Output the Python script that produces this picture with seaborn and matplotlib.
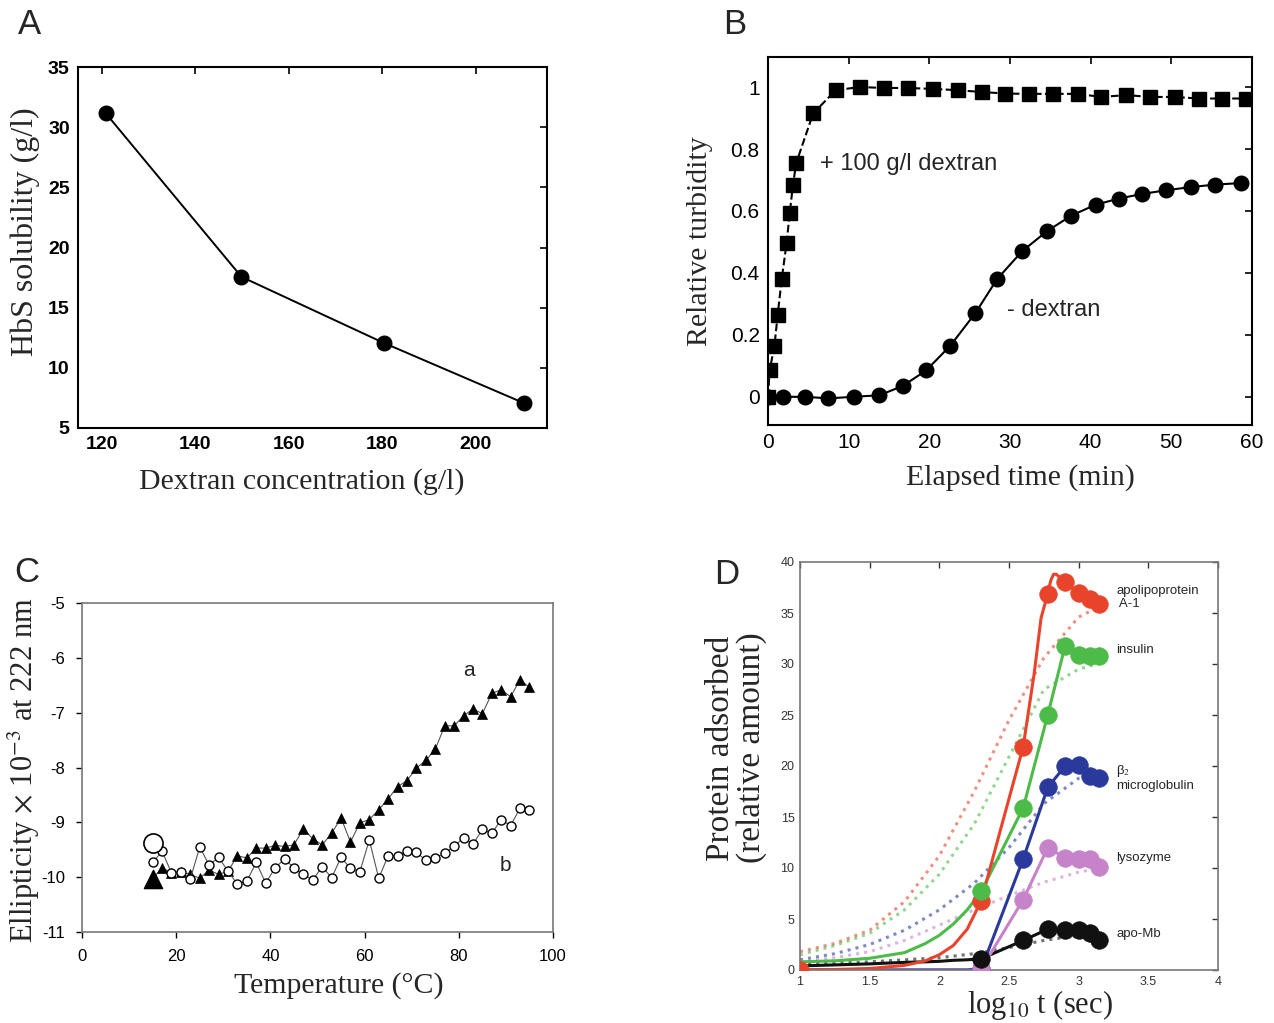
import matplotlib
matplotlib.use('Agg')
import matplotlib.pyplot as plt
import seaborn as sns
from matplotlib.ticker import FuncFormatter

# ---- panel A: HbS solubility vs dextran concentration
dextran_conc = [120.8, 149.9, 180.3, 210.3]
hbs_solubility = [31.17, 17.56, 12.08, 7.08]

# ---- panel B: turbidity kinetics
time_plus = [0.0, 0.2, 0.8, 1.2, 1.7, 2.3, 2.7, 3.1, 3.5, 5.6, 8.4, 11.4, 14.4, 17.4, 20.4,
             23.5, 26.5, 29.4, 32.4, 35.3, 38.4, 41.3, 44.4, 47.4, 50.4, 53.4, 56.3, 59.2]
turb_plus = [0.0, 0.085, 0.165, 0.265, 0.38, 0.495, 0.595, 0.685, 0.755, 0.915, 0.99, 1.0,
             0.997, 0.997, 0.994, 0.99, 0.984, 0.979, 0.978, 0.978, 0.978, 0.968, 0.974,
             0.968, 0.968, 0.963, 0.963, 0.963]
time_minus = [0.0, 1.8, 4.6, 7.5, 10.6, 13.8, 16.7, 19.6, 22.6, 25.7, 28.4, 31.5, 34.6,
              37.6, 40.6, 43.5, 46.4, 49.4, 52.4, 55.4, 58.6]
turb_minus = [0.0, 0.0, 0.0, -0.005, 0.0, 0.005, 0.035, 0.085, 0.165, 0.27, 0.38, 0.47,
              0.535, 0.585, 0.62, 0.64, 0.655, 0.667, 0.677, 0.685, 0.69]

# ---- panel C: ellipticity vs temperature
temp_a = [15, 17, 19, 21, 23, 25, 27, 29, 31, 33, 35, 37, 39, 41, 43, 45, 47, 49, 51, 53,
          55, 57, 59, 61, 63, 65, 67, 69, 71, 73, 75, 77, 79, 81, 83, 85, 87, 89, 91, 93, 95]
ellip_a = [-10.03, -9.83, -9.92, -9.90, -9.95, -10.02, -9.87, -9.95, -9.89, -9.61, -9.65,
           -9.47, -9.47, -9.42, -9.44, -9.41, -9.12, -9.30, -9.41, -9.20, -8.92, -9.36,
           -9.01, -8.95, -8.77, -8.57, -8.35, -8.24, -8.01, -7.87, -7.67, -7.24, -7.24,
           -7.06, -6.93, -7.02, -6.65, -6.58, -6.71, -6.40, -6.54]
temp_b = [15, 17, 19, 21, 23, 25, 27, 29, 31, 33, 35, 37, 39, 41, 43, 45, 47, 49, 51, 53,
          55, 57, 59, 61, 63, 65, 67, 69, 71, 73, 75, 77, 79, 81, 83, 85, 87, 89, 91, 93, 95]
ellip_b = [-9.73, -9.53, -9.92, -9.90, -10.03, -9.45, -9.78, -9.64, -9.89, -10.13, -10.07,
           -9.73, -10.11, -9.83, -9.67, -9.83, -9.95, -10.05, -9.81, -10.01, -9.64, -9.84,
           -9.90, -9.32, -10.02, -9.61, -9.61, -9.52, -9.55, -9.69, -9.65, -9.56, -9.44,
           -9.28, -9.40, -9.13, -9.20, -8.95, -9.06, -8.74, -8.77]
start_temp = [15]
start_a = [-10.03]
start_b = [-9.38]

# ---- panel D: protein adsorption (log10 t)
t_pts = [2.301, 2.602, 2.778, 2.903, 3.0, 3.079, 3.146]
apoa1_pts = [6.8, 21.9, 36.9, 38.0, 37.0, 36.4, 35.9]
insulin_pts = [7.7, 15.9, 25.0, 31.8, 30.9, 30.8, 30.8]
b2m_pts = [0.1, 10.9, 17.9, 20.0, 20.1, 19.0, 18.8]
lyso_pts = [0.1, 6.9, 12.0, 11.0, 10.9, 10.9, 10.1]
apomb_pts = [1.1, 2.9, 4.0, 3.9, 3.9, 3.6, 2.9]
t_first = [1.0]
apoa1_first = [0.0]

# solid traces before the sampled points
t_early = [1.0, 1.25, 1.5, 1.75, 1.9, 2.0, 2.1, 2.2]
apoa1_early = [0.0, 0.05, 0.15, 0.45, 0.9, 1.5, 2.4, 4.0]
insulin_early = [0.8, 0.9, 1.15, 1.7, 2.6, 3.4, 4.5, 5.9]
b2m_early = [0.0, 0.0, 0.0, 0.0, 0.0, 0.0, 0.0, 0.0]
lyso_early = [0.0, 0.0, 0.0, 0.0, 0.0, 0.0, 0.0, 0.0]
apomb_early = [0.4, 0.5, 0.6, 0.75, 0.8, 0.85, 0.95, 1.0]
# extra samples of the apolipoprotein trace around its overshoot
t_apoa1_peak = [2.45, 2.68, 2.73, 2.80, 2.82, 2.84, 2.87]
apoa1_peak = [14.3, 29.0, 34.5, 38.2, 38.8, 38.8, 38.4]

# dotted model curves
t_model = [1.0, 1.25, 1.5, 1.75, 2.0, 2.25, 2.5, 2.75, 3.0, 3.16]
apoa1_model = [1.8, 2.6, 3.9, 6.7, 11.2, 17.5, 24.5, 30.6, 34.6, 35.7]
insulin_model = [1.5, 2.4, 3.6, 5.9, 9.4, 14.3, 20.9, 27.5, 29.5, 30.1]
b2m_model = [1.0, 1.6, 2.5, 3.9, 5.9, 8.5, 12.0, 16.3, 18.8, 19.3]
lyso_model = [0.8, 1.2, 1.8, 2.9, 4.4, 5.9, 7.3, 8.6, 9.6, 10.0]
apomb_model = [0.6, 0.7, 0.8, 1.0, 1.2, 1.6, 2.2, 2.9, 3.4, 3.5]

protein_names = ['apolipoprotein\n A-1', 'insulin', 'β$_2$\nmicroglobulin', 'lysozyme', 'apo-Mb']
protein_label_y = [36.5, 31.4, 18.9, 11.0, 3.5]
protein_colors = ['#e8442b', '#4cbb47', '#2a3a9c', '#c683c9', '#111111']

W, H = 1274, 1023
SANS = ['Liberation Sans', 'DejaVu Sans']
SERIF = ['Liberation Serif', 'DejaVu Serif']


def px_axes(fig, left, top, right, bottom):
    return fig.add_axes([left / W, 1 - bottom / H, (right - left) / W, (bottom - top) / H])


def set_labels(ax, xlabel, ylabel, xpos, ypos, xsize=21.5, ysize=21.5, ylinespacing=1.2):
    # xpos / ypos are (x, y) label centres in axes fraction
    ax.set_xlabel(xlabel, fontsize=xsize, family=SERIF, va='center')
    ax.set_ylabel(ylabel, fontsize=ysize, family=SERIF, va='center', linespacing=ylinespacing)
    ax.xaxis.set_label_coords(*xpos)
    ax.yaxis.set_label_coords(*ypos)


def main():
    sns.set_theme(style='white')
    plt.rcParams['font.family'] = SANS
    plt.rcParams['mathtext.fontset'] = 'stix'
    plt.rcParams['axes.unicode_minus'] = False

    fig = plt.figure(figsize=(W / 100, H / 100), dpi=100)
    fmt = FuncFormatter(lambda v, p: f'{v:g}')

    # ---------------- A
    ax = px_axes(fig, 78, 67, 547, 428)
    sns.lineplot(x=dextran_conc, y=hbs_solubility, ax=ax, color='black', lw=1.4,
                 marker='o', ms=10.5, mec='black', mew=1, estimator=None)
    ax.set_xlim(114.9, 215.3)
    ax.set_ylim(5, 35)
    ax.set_xticks(range(120, 201, 20))
    ax.set_yticks(range(5, 36, 5))
    ax.tick_params(direction='in', top=True, right=True, length=5, width=1.2,
                   labelsize=14, pad=6, colors='black')
    for lab in ax.get_xticklabels() + ax.get_yticklabels():
        lab.set_fontweight('bold')
    for s in ax.spines.values():
        s.set_color('black')
        s.set_linewidth(1.5)
    set_labels(ax, 'Dextran concentration (g/l)', 'HbS solubility (g/l)',
               ((302 - 78) / 469, (428 - 482) / 361), ((25 - 78) / 469, (428 - 232) / 361),
               ysize=23)

    # ---------------- B
    ax = px_axes(fig, 768, 57, 1252, 425)
    sns.lineplot(x=time_plus, y=turb_plus, ax=ax, color='black', lw=1.5, linestyle='--',
                 marker='s', ms=10, mec='black', mew=1, estimator=None)
    sns.lineplot(x=time_minus, y=turb_minus, ax=ax, color='black', lw=1.5,
                 marker='o', ms=10.5, mec='black', mew=1, estimator=None)
    ax.set_xlim(0, 60)
    ax.set_ylim(-0.091, 1.097)
    ax.set_xticks(range(0, 61, 10))
    ax.set_yticks([0, 0.2, 0.4, 0.6, 0.8, 1.0])
    ax.yaxis.set_major_formatter(fmt)
    ax.tick_params(direction='in', top=True, right=True, length=5, width=1.2,
                   labelsize=15, pad=6, colors='black')
    for s in ax.spines.values():
        s.set_color('black')
        s.set_linewidth(1.5)
    ax.text(6.4, 0.75, '+ 100 g/l dextran', fontsize=17, va='center', ha='left')
    ax.text(29.6, 0.28, '- dextran', fontsize=17, va='center', ha='left')
    set_labels(ax, 'Elapsed time (min)', 'Relative turbidity',
               ((1020 - 768) / 484, (425 - 478) / 368), ((700 - 768) / 484, 0.5))

    # ---------------- C
    ax = px_axes(fig, 82, 603, 553, 932)
    sns.lineplot(x=temp_a, y=ellip_a, ax=ax, color='#555555', lw=0.8, marker='^', ms=6.5,
                 mfc='black', mec='black', mew=0.5, estimator=None)
    sns.lineplot(x=temp_b, y=ellip_b, ax=ax, color='#555555', lw=0.8, marker='o', ms=6.5,
                 mfc='white', mec='black', mew=1.0, estimator=None)
    sns.scatterplot(x=start_temp, y=start_a, ax=ax, marker='^', s=170, color='black',
                    edgecolor='black', zorder=5)
    sns.scatterplot(x=start_temp, y=start_b, ax=ax, marker='o', s=190, facecolor='white',
                    edgecolor='black', linewidth=1.2, zorder=5)
    ax.set_xlim(0, 100)
    ax.set_ylim(-11, -5)
    ax.set_xticks(range(0, 101, 20))
    ax.set_yticks(range(-11, -4))
    ax.tick_params(axis='both', direction='out', length=4, width=1, labelsize=12,
                   pad=8, colors='black', left=True, bottom=True)
    for s in ax.spines.values():
        s.set_color('#777777')
        s.set_linewidth(1.2)
    ax.text(82.2, -6.23, 'a', fontsize=15, ha='center', va='center')
    ax.text(90.0, -9.79, 'b', fontsize=15, ha='center', va='center')
    set_labels(ax, 'Temperature (°C)', 'Ellipticity $\\times$ 10$^{-3}$ at 222 nm',
               ((339 - 82) / 471, (932 - 986) / 329), ((24 - 82) / 471, (932 - 770) / 329),
               ysize=22)

    # ---------------- D
    ax = px_axes(fig, 800, 562, 1218, 970)
    early = [apoa1_early, insulin_early, b2m_early, lyso_early, apomb_early]
    pts = [apoa1_pts, insulin_pts, b2m_pts, lyso_pts, apomb_pts]
    models = [apoa1_model, insulin_model, b2m_model, lyso_model, apomb_model]
    for model, col in zip(models, protein_colors):
        sns.lineplot(x=t_model, y=model, ax=ax, color=col, lw=2.2, linestyle=':',
                     alpha=0.6, estimator=None)
    for i in [4, 3, 1, 2, 0]:
        col = protein_colors[i]
        xs = t_early + t_pts
        ys = early[i] + pts[i]
        if i == 0:
            xs = xs + t_apoa1_peak
            ys = ys + apoa1_peak
        sns.lineplot(x=xs, y=ys, ax=ax, color=col, lw=2.2, estimator=None, sort=True)
        sns.scatterplot(x=t_pts, y=pts[i], ax=ax, color=col, s=160, edgecolor=col,
                        linewidth=0.5, zorder=4 + i * 0.1)
    sns.scatterplot(x=t_first, y=apoa1_first, ax=ax, color=protein_colors[0], s=160,
                    edgecolor=protein_colors[0], linewidth=0.5, zorder=5)
    for name, yv in zip(protein_names, protein_label_y):
        ax.text(3.27, yv, name, fontsize=9.5, ha='left', va='center', linespacing=1.15)
    ax.set_xlim(1, 4)
    ax.set_ylim(0, 40)
    ax.set_xticks([1, 1.5, 2, 2.5, 3, 3.5, 4])
    ax.set_yticks(range(0, 41, 5))
    ax.xaxis.set_major_formatter(fmt)
    ax.tick_params(direction='in', top=True, right=True, length=4, width=1, labelsize=9,
                   pad=4, colors='#333333')
    for s in ax.spines.values():
        s.set_color('#777777')
        s.set_linewidth(1.2)
    set_labels(ax, 'log$_{10}$ t (sec)', 'Protein adsorbed\n(relative amount)',
               ((1040 - 800) / 418, (970 - 1005) / 408), ((736 - 800) / 418, (970 - 748) / 408),
               xsize=22, ysize=24, ylinespacing=1.0)

    # panel letters
    for letter, x, y in [('A', 29, 25), ('B', 735, 25), ('C', 27, 572), ('D', 727, 575)]:
        fig.text(x / W, 1 - y / H, letter, fontsize=25, ha='center', va='center')

    fig.savefig('out.png', dpi=100)


if __name__ == '__main__':
    main()
